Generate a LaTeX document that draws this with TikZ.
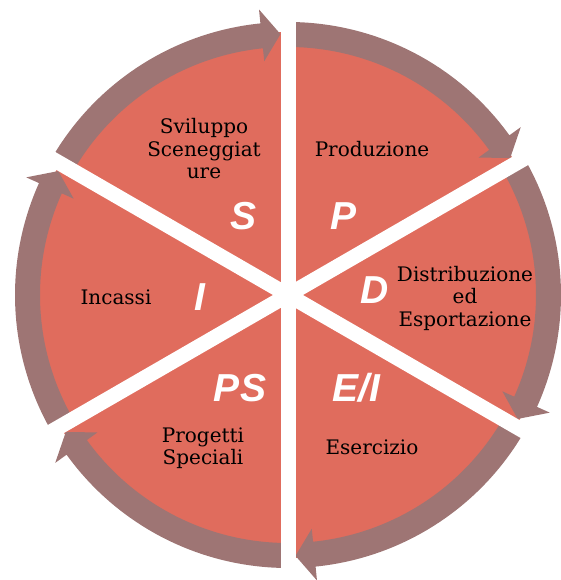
\documentclass[tikz,border=0pt]{standalone}
\usepackage{fontspec}
\setmainfont{DejaVu Serif}
\newfontfamily\letterfont{Liberation Sans}
\definecolor{sectred}{HTML}{E06C5D}
\definecolor{bandcol}{HTML}{9E7574}
\begin{document}
\begin{tikzpicture}[x=1pt,y=1pt,
  lbl/.style={font=\fontsize{20}{22.5}\selectfont, align=center, text=black, inner sep=0pt},
  letter/.style={font=\letterfont\bfseries\itshape\fontsize{39}{39}\selectfont, text=white, inner sep=0pt},
  gapline/.style={white, line width=15pt}]
\useasboundingbox (-288,-285) rectangle (273,295);
\fill[sectred] (0,0) circle (263);
\foreach \s in {150,90,30,-30,-90,-150} {
  \pgfmathsetmacro{\e}{\s-60}
  \pgfmathsetmacro{\hb}{\e+5.8}
  \pgfmathsetmacro{\ht}{\e+1.65}
  \fill[bandcol] (\s:273) arc[start angle=\s, end angle=\hb, radius=273]
     -- (\hb:287) -- (\ht:261) -- (\hb:235) -- (\hb:248)
     arc[start angle=\hb, end angle=\s, radius=248] -- cycle;
}
\draw[gapline] (90:300) -- (-90:300);
\draw[gapline] (30:320) -- (210:320);
\draw[gapline] (-30:320) -- (150:320);
\node[lbl] (sv) at (-84,146) {Sviluppo\\Sceneggiat\\ure};
\node[lbl] (pr) at (84,146) {Produzione};
\node[lbl] (di) at (177,-3) {Distribuzione\\ed\\Esportazione};
\node[lbl] (in) at (-172,-2) {Incassi};
\node[lbl] (ps) at (-85,-153) {Progetti\\Speciali};
\node[lbl] (es) at (84,-152) {Esercizio};
\node[letter] (ls) at (-44,79) {S};
\node[letter] (lp) at (56,79) {P};
\node[letter] (ld) at (87,5) {D};
\node[letter] (li) at (-88,-2) {I};
\node[letter] (lps) at (-48,-93) {PS};
\node[letter] (lei) at (68,-93) {E/I};
\end{tikzpicture}
\end{document}
